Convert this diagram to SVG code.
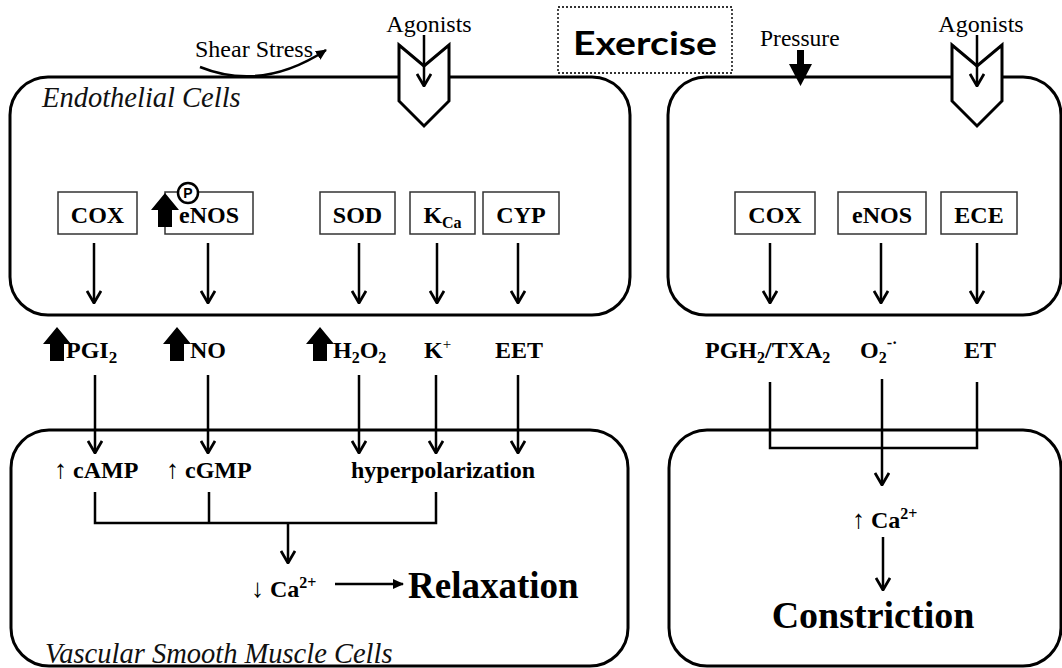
<svg xmlns="http://www.w3.org/2000/svg" width="1062" height="668" viewBox="0 0 1062 668">
<defs>
<style>
.cell{fill:none;stroke:#000;stroke-width:3}
.enz{fill:#fff;stroke:#333;stroke-width:1.5}
.rec{fill:#fff;stroke:#000;stroke-width:3;stroke-linejoin:miter}
.ln{fill:none;stroke:#000;stroke-width:2.5}
.arr{fill:none;stroke:#000;stroke-width:2.5;marker-end:url(#open)}
.t{font-family:"Liberation Serif","Times New Roman",serif;fill:#000}
.b{font-weight:bold;font-size:24px}
.lab{font-size:24px}
.it{font-style:italic;font-size:28.5px;fill:#111}
.blk{fill:#000}
.ua{font-weight:normal;font-size:26px}
</style>
<marker id="open" markerUnits="userSpaceOnUse" viewBox="0 0 14 16" refX="13" refY="8" markerWidth="14" markerHeight="16" orient="auto">
<path d="M1,1 L13,8 L1,15" fill="none" stroke="#000" stroke-width="2.8"/>
</marker>
<marker id="solid" markerUnits="userSpaceOnUse" viewBox="0 0 12 12" refX="10" refY="6" markerWidth="12" markerHeight="12" orient="auto">
<path d="M0,1 L11,6 L0,11 Z" fill="#000"/>
</marker>
<path id="blockUp" d="M0,0 L14,17 L7,17 L7,34 L-7,34 L-7,17 L-14,17 Z"/>
</defs>

<!-- cells -->
<g id="endothelial-left">
<rect class="cell" x="10" y="77" width="620" height="238" rx="38"/>
<text class="t it" x="42" y="107">Endothelial Cells</text>
</g>
<g id="endothelial-right">
<rect class="cell" x="668" y="77" width="393" height="238" rx="38"/>
</g>
<g id="smooth-left">
<rect class="cell" x="11" y="430" width="617" height="236" rx="38"/>
<text class="t it" x="45" y="663">Vascular Smooth Muscle Cells</text>
</g>
<g id="smooth-right">
<rect class="cell" x="669" y="430" width="392" height="236" rx="38"/>
</g>

<!-- top stimuli -->
<g id="exercise">
<rect x="558" y="7" width="174" height="66" fill="#fff" stroke="#333" stroke-width="1.8" stroke-dasharray="2,2"/>
<text x="573" y="55" textLength="144" lengthAdjust="spacingAndGlyphs" font-family="Lato,'Liberation Sans',sans-serif" font-weight="bold" font-size="32">Exercise</text>
</g>
<g id="shear-stress">
<text class="t lab" x="195" y="57">Shear Stress</text>
</g>
<g id="receptor-left">
<polygon class="rec" points="399,45 424,66 449,45 449,101 424,126 399,101"/>
<text class="t lab" x="429" y="32" text-anchor="middle">Agonists</text>
</g>
<g id="receptor-right">
<polygon class="rec" points="952,45 977,66 1002,45 1002,101 977,126 952,101"/>
<text class="t lab" x="981" y="32" text-anchor="middle">Agonists</text>
</g>
<g id="pressure">
<text class="t" x="760" y="46" font-size="23.5">Pressure</text>
<path class="blk" d="M797,50 L804,50 L804,64 L812,64 L800.5,86 L789,64 L797,64 Z"/>
</g>

<!-- enzymes left -->
<g id="cox-left"><rect class="enz" x="58" y="192" width="79" height="42"/><text class="t b" x="97.5" y="223" text-anchor="middle">COX</text></g>
<g id="enos-left">
<rect class="enz" x="165" y="192" width="88" height="42"/>
<text class="t b" x="209" y="223" text-anchor="middle">eNOS</text>
<use href="#blockUp" x="165" y="193" class="blk"/>
<circle cx="188" cy="193" r="10" fill="#fff" stroke="#000" stroke-width="2.5"/>
<text x="188" y="198" text-anchor="middle" font-family="'Liberation Sans',Arial,sans-serif" font-weight="bold" font-size="14">P</text>
</g>
<g id="sod"><rect class="enz" x="320" y="192" width="75" height="42"/><text class="t b" x="357.5" y="223" text-anchor="middle">SOD</text></g>
<g id="kca"><rect class="enz" x="410" y="192" width="65" height="42"/><text class="t b" x="442.5" y="223" text-anchor="middle">K<tspan font-size="16" dy="5">Ca</tspan></text></g>
<g id="cyp"><rect class="enz" x="483" y="192" width="76" height="42"/><text class="t b" x="521" y="223" text-anchor="middle">CYP</text></g>

<!-- enzymes right -->
<g id="cox-right"><rect class="enz" x="735" y="192" width="80" height="42"/><text class="t b" x="775" y="223" text-anchor="middle">COX</text></g>
<g id="enos-right"><rect class="enz" x="838" y="192" width="88" height="42"/><text class="t b" x="882" y="223" text-anchor="middle">eNOS</text></g>
<g id="ece"><rect class="enz" x="941" y="192" width="76" height="42"/><text class="t b" x="979" y="223" text-anchor="middle">ECE</text></g>

<!-- mediators -->
<g id="pgi2"><text class="t b" x="66" y="358" font-size="25">PGI<tspan font-size="17" dy="5">2</tspan></text><use href="#blockUp" x="57" y="327" class="blk"/></g>
<g id="no"><text class="t b" x="190" y="358">NO</text><use href="#blockUp" x="177" y="327" class="blk"/></g>
<g id="h2o2"><text class="t b" x="333" y="358">H<tspan font-size="16" dy="5">2</tspan><tspan dy="-5">O</tspan><tspan font-size="16" dy="5">2</tspan></text><use href="#blockUp" x="320" y="327" class="blk"/></g>
<g id="kplus"><text class="t b" x="424" y="358">K<tspan font-size="15" font-weight="normal" dy="-9">+</tspan></text></g>
<g id="eet"><text class="t b" x="519" y="358" text-anchor="middle">EET</text></g>
<g id="pgh2-txa2"><text class="t b" x="705" y="358">PGH<tspan font-size="16" dy="5">2</tspan><tspan dy="-5">/TXA</tspan><tspan font-size="16" dy="5">2</tspan></text></g>
<g id="o2"><text class="t b" x="860" y="358">O<tspan font-size="16" dy="5">2</tspan><tspan font-size="16" dy="-15">-·</tspan></text></g>
<g id="et"><text class="t b" x="980" y="358" text-anchor="middle">ET</text></g>

<!-- smooth muscle contents -->
<g id="camp"><text class="t b" x="54" y="478"><tspan class="ua">↑</tspan> cAMP</text></g>
<g id="cgmp"><text class="t b" x="166" y="478"><tspan class="ua">↑</tspan> cGMP</text></g>
<g id="hyperpolarization"><text class="t b" x="351" y="478">hyperpolarization</text></g>
<g id="ca-down"><text class="t b" x="251" y="597" font-size="23"><tspan class="ua" font-size="24">↓</tspan> Ca<tspan font-size="16" dy="-9">2+</tspan></text></g>
<g id="relaxation"><text class="t" x="408" y="598" font-weight="bold" font-size="37">Relaxation</text></g>
<g id="ca-up"><text class="t b" x="852" y="528" font-size="23"><tspan class="ua" font-size="24">↑</tspan> Ca<tspan font-size="16" dy="-9">2+</tspan></text></g>
<g id="constriction"><text class="t" x="873" y="628" text-anchor="middle" font-weight="bold" font-size="38">Constriction</text></g>

<!-- connectors -->
<g id="connectors">
<path d="M200,67 Q262,92 326,50" fill="none" stroke="#000" stroke-width="2.5" marker-end="url(#solid)"/>
<line class="arr" x1="424" y1="35" x2="424" y2="86"/>
<line class="arr" x1="977" y1="35" x2="977" y2="86"/>

<line class="arr" x1="94" y1="243" x2="94" y2="303"/>
<line class="arr" x1="208" y1="243" x2="208" y2="303"/>
<line class="arr" x1="359" y1="243" x2="359" y2="303"/>
<line class="arr" x1="437" y1="243" x2="437" y2="303"/>
<line class="arr" x1="518" y1="243" x2="518" y2="303"/>
<line class="arr" x1="770" y1="243" x2="770" y2="303"/>
<line class="arr" x1="881" y1="243" x2="881" y2="303"/>
<line class="arr" x1="977" y1="243" x2="977" y2="303"/>

<line class="arr" x1="95" y1="375" x2="95" y2="453"/>
<line class="arr" x1="208" y1="375" x2="208" y2="453"/>
<line class="arr" x1="359" y1="375" x2="359" y2="453"/>
<line class="arr" x1="436" y1="375" x2="436" y2="453"/>
<line class="arr" x1="518" y1="375" x2="518" y2="453"/>

<path class="ln" d="M95,492 L95,523 L436,523 L436,492 M209,492 L209,523"/>
<line class="arr" x1="288" y1="523" x2="288" y2="563"/>
<line x1="335" y1="584" x2="403" y2="584" stroke="#000" stroke-width="2.5" marker-end="url(#solid)"/>

<path class="ln" d="M770,382 L770,448 L977,448 L977,382"/>
<line class="arr" x1="882" y1="379" x2="882" y2="485"/>
<line class="arr" x1="883" y1="537" x2="883" y2="590"/>
</g>
</svg>
